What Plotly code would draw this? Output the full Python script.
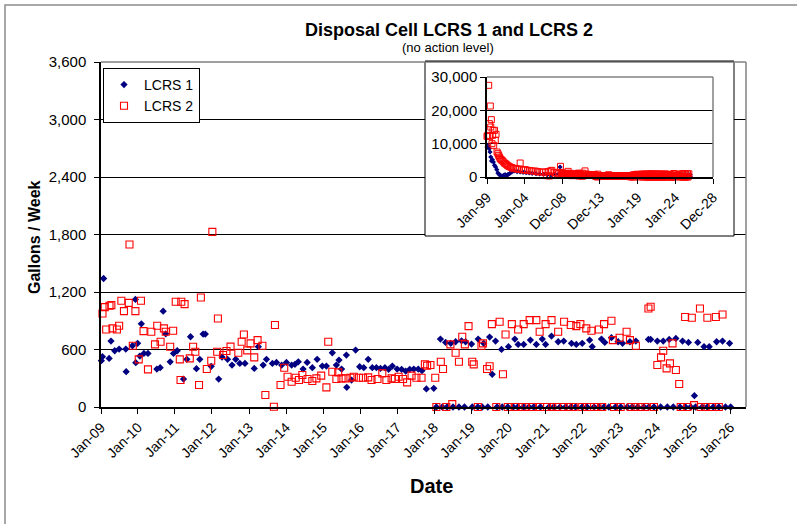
import plotly.graph_objects as go
from datetime import datetime

# ---------------- data (decimal year, gallons/week) ----------------
lcrs1_year = [2009.01, 2009.04, 2009.07, 2009.22, 2009.27, 2009.37, 2009.49, 2009.67, 2009.68, 2009.85,
              2009.93, 2009.94, 2009.99, 2010.05, 2010.09, 2010.16, 2010.27, 2010.51, 2010.60, 2010.68,
              2010.75, 2010.87, 2010.96, 2011.06, 2011.23, 2011.32, 2011.42, 2011.58, 2011.67, 2011.76,
              2011.82, 2011.98, 2012.18, 2012.27, 2012.42, 2012.54, 2012.64, 2012.75, 2012.89, 2013.14,
              2013.25, 2013.38, 2013.47, 2013.63, 2013.74, 2013.88, 2014.01, 2014.15, 2014.24, 2014.33,
              2014.46, 2014.57, 2014.71, 2014.84, 2014.98, 2015.09, 2015.25, 2015.36, 2015.43, 2015.50,
              2015.63, 2015.64, 2015.77, 2015.88, 2015.99, 2016.10, 2016.22, 2016.33, 2016.44, 2016.55,
              2016.67, 2016.77, 2016.87, 2017.00, 2017.12, 2017.23, 2017.34, 2017.45, 2017.57, 2017.67,
              2017.79, 2017.99, 2018.17, 2018.31, 2018.45, 2018.58, 2018.74, 2018.85, 2019.01, 2019.19,
              2019.34, 2019.50, 2019.57, 2019.66, 2019.82, 2020.01, 2020.18, 2020.27, 2020.42, 2020.60,
              2020.76, 2020.92, 2021.01, 2021.17, 2021.35, 2021.50, 2021.71, 2021.84, 2022.00, 2022.20,
              2022.27, 2022.52, 2022.61, 2022.79, 2022.97, 2023.09, 2023.29, 2023.45, 2023.79, 2023.85,
              2024.03, 2024.19, 2024.35, 2024.53, 2024.71, 2024.87, 2025.03, 2025.12, 2025.29, 2025.43,
              2025.63, 2025.79, 2025.98]
lcrs1_gpw = [483, 525, 1341, 507, 688, 587, 604, 604, 368, 639,
             1122, 462, 664, 531, 868, 559, 559, 396, 410, 1000,
             764, 472, 559, 587, 292, 497, 733, 400, 497, 761,
             761, 424, 292, 521, 497, 438, 497, 455, 455, 403,
             629, 438, 497, 455, 465, 438, 465, 438, 445, 472,
             396, 465, 410, 497, 427, 427, 566, 438, 490, 396,
             542, 205, 281, 594, 420, 410, 497, 410, 410, 403,
             410, 393, 427, 396, 393, 375, 393, 396, 396, 379,
             188, 195, 709, 674, 664, 681, 691, 681, 657, 709,
             664, 730, 341, 688, 601, 629, 709, 653, 653, 698,
             653, 709, 653, 740, 681, 688, 664, 653, 664, 698,
             629, 709, 674, 723, 681, 664, 681, 688, 705, 705,
             688, 688, 705, 716, 688, 674, 118, 674, 629, 629,
             681, 688, 664]

lcrs1_zero_year = [2018.06, 2018.22, 2018.35, 2018.51, 2018.67, 2018.82, 2019.03, 2019.18, 2019.30, 2019.45,
                   2019.70, 2019.84, 2019.99, 2020.14, 2020.26, 2020.42, 2020.56, 2020.69, 2020.87, 2021.10,
                   2021.23, 2021.40, 2021.55, 2021.70, 2021.82, 2022.00, 2022.13, 2022.32, 2022.45, 2022.59,
                   2022.72, 2022.90, 2023.04, 2023.22, 2023.35, 2023.50, 2023.67, 2023.80, 2023.94, 2024.12,
                   2024.30, 2024.46, 2024.64, 2024.79, 2024.93, 2025.06, 2025.24, 2025.38, 2025.54, 2025.69,
                   2025.87, 2026.01]
lcrs1_zero_gpw = [0, 0, 0, 0, 0, 0, 0, 0, 0, 0,
                  0, 0, 0, 0, 0, 0, 0, 0, 0, 0,
                  0, 0, 0, 0, 0, 0, 0, 0, 0, 0,
                  0, 0, 0, 0, 0, 0, 0, 0, 0, 0,
                  0, 0, 0, 0, 0, 0, 0, 0, 0, 0,
                  0, 0]

lcrs2_year = [2009.04, 2009.10, 2009.14, 2009.23, 2009.28, 2009.31, 2009.43, 2009.49, 2009.55, 2009.62,
              2009.75, 2009.77, 2009.86, 2009.93, 2010.02, 2010.08, 2010.15, 2010.27, 2010.36, 2010.46,
              2010.52, 2010.61, 2010.70, 2010.75, 2010.87, 2010.95, 2011.02, 2011.13, 2011.15, 2011.17,
              2011.26, 2011.40, 2011.49, 2011.55, 2011.65, 2011.70, 2011.86, 2011.98, 2012.01, 2012.14,
              2012.16, 2012.30, 2012.39, 2012.50, 2012.71, 2012.80, 2012.86, 2012.95, 2013.04, 2013.14,
              2013.23, 2013.36, 2013.44, 2013.67, 2013.70, 2013.85, 2013.95, 2014.04, 2014.15, 2014.26,
              2014.35, 2014.44, 2014.58, 2014.71, 2014.82, 2014.95, 2015.09, 2015.14, 2015.25, 2015.36,
              2015.41, 2015.50, 2015.61, 2015.74, 2015.83, 2015.97, 2016.08, 2016.22, 2016.31, 2016.47,
              2016.60, 2016.71, 2016.85, 2016.94, 2017.04, 2017.16, 2017.27, 2017.39, 2017.52, 2017.66,
              2017.75, 2017.81, 2017.90, 2018.03, 2018.18, 2018.24, 2018.44, 2018.58, 2018.67, 2018.76,
              2018.83, 2018.93, 2019.03, 2019.07, 2019.28, 2019.32, 2019.43, 2019.50, 2019.56, 2019.77,
              2019.86, 2019.93, 2020.10, 2020.27, 2020.42, 2020.58, 2020.76, 2020.85, 2021.01, 2021.17,
              2021.35, 2021.51, 2021.69, 2021.84, 2021.95, 2022.11, 2022.25, 2022.45, 2022.59, 2022.79,
              2022.83, 2023.01, 2023.20, 2023.29, 2023.45, 2023.79, 2023.85, 2024.03, 2024.13, 2024.19,
              2024.28, 2024.37, 2024.44, 2024.53, 2024.62, 2024.78, 2024.96, 2025.18, 2025.38, 2025.61,
              2025.79]
lcrs2_gpw = [976, 1042, 809, 1056, 1063, 820, 809, 848, 1108, 1000,
             1087, 1695, 639, 1000, 497, 1108, 792, 393, 785, 653,
             848, 681, 820, 785, 629, 796, 1098, 497, 281, 1098,
             1073, 507, 629, 577, 229, 1143, 396, 483, 1827, 577,
             924, 542, 584, 630, 566, 681, 757, 591, 664, 518,
             698, 639, 125, 3, 855, 229, 410, 316, 264, 306,
             281, 334, 292, 271, 299, 327, 205, 681, 368, 292,
             361, 299, 299, 306, 316, 306, 306, 309, 281, 292,
             351, 281, 299, 292, 316, 292, 257, 327, 306, 306,
             445, 431, 438, 306, 472, 396, 653, 566, 472, 733,
             653, 844, 472, 445, 639, 664, 396, 425, 865, 889,
             341, 757, 865, 809, 865, 907, 907, 785, 865, 907,
             785, 889, 855, 844, 865, 820, 796, 809, 865, 900,
             698, 722, 785, 698, 639, 1028, 1046, 438, 518, 587,
             403, 455, 664, 386, 240, 939, 931, 1028, 931, 939,
             966]

lcrs2_zero_year = [2018.06, 2018.33, 2018.49, 2019.18, 2019.68, 2019.99, 2020.20, 2020.38, 2020.47, 2020.65,
                   2020.86, 2021.05, 2021.19, 2021.32, 2021.50, 2021.64, 2021.77, 2022.00, 2022.13, 2022.32,
                   2022.41, 2022.54, 2022.86, 2023.04, 2023.31, 2023.44, 2023.58, 2023.71, 2023.94, 2024.66,
                   2024.84, 2025.02, 2025.20, 2025.33, 2025.51, 2025.69]
lcrs2_zero_gpw = [0, 0, 30, 0, 0, 0, 0, 0, 0, 0,
                  0, 0, 0, 0, 0, 0, 0, 0, 0, 0,
                  0, 0, 0, 0, 0, 0, 0, 0, 0, 0,
                  0, 20, 0, 0, 0, 0]

# early record (inset only), 1999-2008
lcrs1_early_year = [1999.00, 1999.10, 1999.20, 1999.30, 1999.40, 1999.50, 1999.60, 1999.72, 1999.85, 2000.00,
                    2000.15, 2000.30, 2000.45, 2000.60, 2000.75, 2000.90, 2001.05, 2001.20, 2001.40, 2001.60,
                    2001.80, 2002.00, 2002.30, 2002.60, 2003.00, 2003.40, 2003.80, 2004.20, 2004.60, 2005.00,
                    2005.50, 2006.00, 2006.50, 2007.00, 2007.50, 2008.00, 2008.50, 2008.70, 2008.85]
lcrs1_early_gpw = [9000, 9500, 8800, 8500, 7500, 6000, 4800, 5200, 4500, 3500,
                   3000, 2200, 1200, 800, 500, 300, 200, 500, 700, 400,
                   800, 1000, 1500, 1800, 1600, 1500, 1400, 1300, 1200, 1100,
                   1000, 900, 800, 700, 600, 800, 900, 3000, 700]

lcrs2_early_year = [1999.00, 1999.10, 1999.22, 1999.31, 1999.35, 1999.44, 1999.50, 1999.58, 1999.66, 1999.75,
                    1999.80, 1999.89, 2000.00, 2000.10, 2000.20, 2000.33, 2000.45, 2000.55, 2000.64, 2000.75,
                    2000.88, 2001.00, 2001.15, 2001.30, 2001.44, 2001.60, 2001.75, 2001.90, 2002.10, 2002.30,
                    2002.50, 2002.75, 2003.00, 2003.25, 2003.40, 2003.60, 2003.85, 2004.10, 2004.40, 2004.70,
                    2005.00, 2005.40, 2005.70, 2006.00, 2006.40, 2006.75, 2006.90, 2007.10, 2007.30, 2007.40,
                    2007.60, 2007.90, 2008.20, 2008.50, 2008.75, 2008.90]
lcrs2_early_gpw = [12200, 12500, 27500, 16000, 12200, 21300, 15000, 17200, 10000, 12500,
                   14000, 9500, 14000, 11000, 12800, 7500, 7000, 6500, 6000, 5500,
                   5200, 5000, 4600, 4200, 4000, 3700, 3400, 3200, 3000, 2800,
                   2500, 2600, 2400, 2300, 4200, 2200, 2100, 2200, 2000, 1900,
                   1800, 1800, 1600, 1500, 1500, 1500, 400, 1600, 300, 1800,
                   2000, 1400, 1200, 1000, 3200, 1300]

inset_tick_dates = ["1999-01-01", "2004-01-01", "2008-12-31", "2013-12-31", "2019-01-01", "2024-01-01", "2028-12-31"]
inset_tick_text = ["Jan-99", "Jan-04", "Dec-08", "Dec-13", "Jan-19", "Jan-24", "Dec-28"]


def to_date(y):
    yr = int(y)
    a = datetime(yr, 1, 1)
    b = datetime(yr + 1, 1, 1)
    return a + (b - a) * (y - yr)


def dates(lst):
    return [to_date(v) for v in lst]


NAVY = "#000080"
RED = "#FF0000"
FONT = "Liberation Sans, Arial, sans-serif"

W, H = 797, 524
L, R, T, B = 101, 51, 62, 117
PW, PH = W - L - R, H - T - B

X_RANGE = [datetime(2009, 1, 1), datetime(2026, 6, 5)]
Y_RANGE = [0, 3600]


def px_x(x):
    return (x - L) / PW


def px_y(y):
    return (H - B - y) / PH


def px_to_date(x):
    return X_RANGE[0] + (X_RANGE[1] - X_RANGE[0]) * px_x(x)


def px_to_val(y):
    return Y_RANGE[0] + (Y_RANGE[1] - Y_RANGE[0]) * px_y(y)


fig = go.Figure()

# main chart
fig.add_trace(go.Scatter(
    x=dates(lcrs1_year + lcrs1_zero_year), y=lcrs1_gpw + lcrs1_zero_gpw,
    mode="markers", name="LCRS 1", cliponaxis=False,
    marker=dict(symbol="diamond", size=5.6, color=NAVY, line=dict(width=0)),
    xaxis="x", yaxis="y"))
fig.add_trace(go.Scatter(
    x=dates(lcrs2_year + lcrs2_zero_year), y=lcrs2_gpw + lcrs2_zero_gpw,
    mode="markers", name="LCRS 2", cliponaxis=False,
    marker=dict(symbol="square-open", size=7, color=RED, line=dict(width=1.1, color=RED)),
    xaxis="x", yaxis="y"))

# inset chart (full record)
fig.add_trace(go.Scatter(
    x=dates(lcrs1_early_year + lcrs1_year + lcrs1_zero_year),
    y=lcrs1_early_gpw + lcrs1_gpw + lcrs1_zero_gpw,
    mode="markers", showlegend=False, cliponaxis=False,
    marker=dict(symbol="diamond", size=4, color=NAVY, line=dict(width=0)),
    xaxis="x2", yaxis="y2"))
fig.add_trace(go.Scatter(
    x=dates(lcrs2_early_year + lcrs2_year + lcrs2_zero_year),
    y=lcrs2_early_gpw + lcrs2_gpw + lcrs2_zero_gpw,
    mode="markers", showlegend=False, cliponaxis=False,
    marker=dict(symbol="square-open", size=6, color=RED, line=dict(width=1, color=RED)),
    xaxis="x2", yaxis="y2"))

axis_common = dict(showline=True, linecolor="black", linewidth=1.5, ticks="outside",
                   ticklen=5, tickwidth=1.2, tickcolor="black", zeroline=False)

in_x0, in_x1 = px_x(487), px_x(713)
in_y0, in_y1 = px_y(177), px_y(77)

fig.update_layout(
    width=W, height=H,
    margin=dict(l=L, r=R, t=T, b=B, pad=0, autoexpand=False),
    paper_bgcolor="white", plot_bgcolor="white",
    font=dict(family=FONT, color="black"),
    xaxis=dict(**axis_common, type="date", range=X_RANGE,
               tick0="2009-01-01", dtick="M12", tickformat="%b-%y", tickangle=-45,
               tickfont=dict(size=14), showgrid=False, domain=[0, 1], automargin=False),
    yaxis=dict(**axis_common, range=Y_RANGE, dtick=600, tickformat=",d",
               tickfont=dict(size=15), showgrid=True, gridcolor="black", gridwidth=1,
               ticklabelstandoff=5, domain=[0, 1], automargin=False),
    xaxis2=dict(**axis_common, type="date", range=["1999-01-01", "2028-12-31"],
                tickmode="array", tickvals=inset_tick_dates, ticktext=inset_tick_text,
                tickangle=-45, tickfont=dict(size=14), showgrid=False,
                domain=[in_x0, in_x1], anchor="y2", automargin=False),
    yaxis2=dict(**axis_common, range=[0, 30000], dtick=10000, tickformat=",d",
                tickfont=dict(size=15), showgrid=True, gridcolor="black", gridwidth=1,
                domain=[in_y0, in_y1], anchor="x2", automargin=False),
    legend=dict(x=px_x(103), y=px_y(68), xanchor="left", yanchor="top",
                bgcolor="white", bordercolor="black", borderwidth=1,
                font=dict(size=14, family=FONT), itemwidth=30,
                tracegroupgap=4),
    showlegend=True,
)

shapes = [
    # inset frame (white box above main gridlines, below traces)
    dict(type="rect", xref="x", yref="y", layer="between",
         x0=px_to_date(425), x1=px_to_date(734), y0=px_to_val(236), y1=px_to_val(61),
         fillcolor="white", line=dict(color="black", width=1)),
    # gray top/right borders of main plot area
    dict(type="line", xref="paper", yref="paper", layer="above",
         x0=0, x1=1, y0=1, y1=1, line=dict(color="#808080", width=1.5)),
    dict(type="line", xref="paper", yref="paper", layer="above",
         x0=1, x1=1, y0=0, y1=1, line=dict(color="#808080", width=1.5)),
    # black top of inset box over the gray line
    dict(type="line", xref="paper", yref="paper", layer="above",
         x0=px_x(425), x1=px_x(734), y0=px_y(61), y1=px_y(61), line=dict(color="black", width=1)),
    # gray top/right borders of inset plot area
    dict(type="line", xref="paper", yref="paper", layer="above",
         x0=in_x0, x1=in_x1, y0=in_y1, y1=in_y1, line=dict(color="#808080", width=1.5)),
    dict(type="line", xref="paper", yref="paper", layer="above",
         x0=in_x1, x1=in_x1, y0=in_y0, y1=in_y1, line=dict(color="#808080", width=1.5)),
    # outer chart border
    dict(type="rect", xref="paper", yref="paper", layer="above",
         x0=px_x(5), x1=px_x(803), y0=px_y(530), y1=px_y(5),
         line=dict(color="#8c8c8c", width=1.5), fillcolor="rgba(0,0,0,0)"),
]
fig.update_layout(shapes=shapes)

fig.add_annotation(text="<b>Disposal Cell LCRS 1 and LCRS 2</b>", xref="paper", yref="paper",
                   x=px_x(449), y=px_y(30), xanchor="center", yanchor="middle",
                   showarrow=False, font=dict(size=18, family=FONT))
fig.add_annotation(text="(no action level)", xref="paper", yref="paper",
                   x=px_x(448), y=px_y(47), xanchor="center", yanchor="middle",
                   showarrow=False, font=dict(size=13, family=FONT))
fig.add_annotation(text="<b>Gallons / Week</b>", xref="paper", yref="paper",
                   x=px_x(34), y=px_y(237), xanchor="center", yanchor="middle",
                   textangle=-90, showarrow=False, font=dict(size=16, family=FONT))
fig.add_annotation(text="<b>Date</b>", xref="paper", yref="paper",
                   x=px_x(431), y=px_y(486), xanchor="center", yanchor="middle",
                   showarrow=False, font=dict(size=20, family=FONT))

fig.write_html("out.html", config={"displayModeBar": False},
               post_script="document.body.style.margin='0';document.body.style.overflow='hidden';")
